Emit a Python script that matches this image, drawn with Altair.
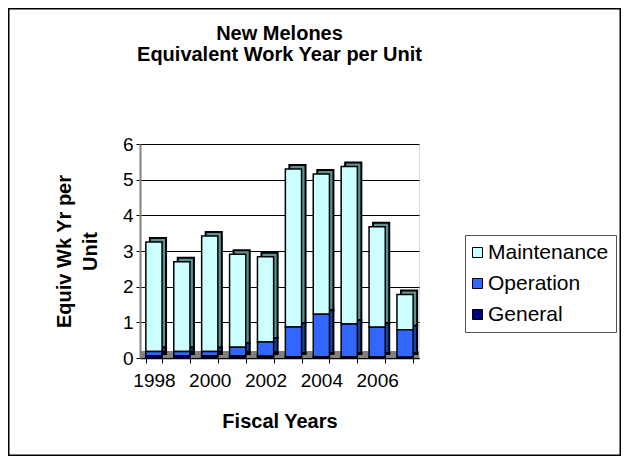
import altair as alt
import pandas as pd

years = [1998, 1999, 2000, 2001, 2002, 2003, 2004, 2005, 2006, 2007]
general = [0.06, 0.06, 0.06, 0.06, 0.05, 0.03, 0.03, 0.03, 0.03, 0.02]
operation = [0.12, 0.12, 0.12, 0.24, 0.40, 0.84, 1.20, 0.92, 0.83, 0.77]
maintenance = [3.07, 2.52, 3.24, 2.61, 2.39, 4.43, 3.93, 4.42, 2.82, 0.99]
series = ["Maintenance", "Operation", "General"]
colors = ["#CCFFFF", "#3366FF", "#000080"]
side_colors = ["#5F8F8F", "#1F3FA0", "#000040"]
stack_rank = {"General": 0, "Operation": 1, "Maintenance": 2}

rows = []
for i, yr in enumerate(years):
    for s, vals in zip(series, [maintenance, operation, general]):
        rows.append({"year": yr, "series": s, "value": vals[i], "rank": stack_rank[s]})
df = pd.DataFrame(rows)

FONT = "Liberation Sans"
W, H = 279, 214
PL, PT, PR, PB = 132, 136, 202, 98
DEPTH = 4

x_enc = alt.X(
    "year:O",
    scale=alt.Scale(paddingInner=0.42, paddingOuter=0.21),
    axis=alt.Axis(
        title="Fiscal Years",
        labelAngle=0,
        tickBand="extent",
        labelExpr="datum.value % 2 == 0 ? datum.label : ''",
        labelOverlap=False,
        labelFontSize=19,
        labelFont=FONT,
        labelColor="black",
        labelPadding=8,
        tickSize=5,
        tickColor="black",
        domainColor="black",
        domainWidth=1.5,
        titleFontSize=20,
        titleFont=FONT,
        titleFontWeight="bold",
        titleBaseline="alphabetic",
        titleY=69,
    ),
)
y_enc = alt.Y(
    "value:Q",
    stack="zero",
    scale=alt.Scale(domain=[0, 6], nice=False),
    axis=alt.Axis(
        title=["Equiv Wk Yr per", "Unit"],
        values=[0, 1, 2, 3, 4, 5, 6],
        grid=True,
        gridColor="black",
        gridWidth=1,
        labelFontSize=19,
        labelFont=FONT,
        labelColor="black",
        labelPadding=3,
        tickSize=4,
        tickColor="black",
        domainColor="#808080",
        domainWidth=2,
        titleFontSize=20,
        titleFont=FONT,
        titleFontWeight="bold",
        titleAngle=-90,
        titleAlign="center",
        titleBaseline="alphabetic",
        titleLineHeight=26,
        titleX=-70,
        titleY=107,
    ),
)

floor = alt.Chart(pd.DataFrame({"a": [0]})).mark_rule(
    color="#808080", strokeWidth=7
).encode(
    x=alt.value(1),
    x2=alt.value(W),
    y=alt.value(H - 3.5),
)

sides = alt.Chart(df).mark_bar(
    stroke="black", strokeWidth=2,
    xOffset=DEPTH, x2Offset=DEPTH, yOffset=-DEPTH, y2Offset=-DEPTH,
).encode(
    x=x_enc,
    y=y_enc,
    fill=alt.Fill("series:N", scale=alt.Scale(domain=series, range=side_colors), legend=None),
    order=alt.Order("rank:Q", sort="ascending"),
)

bars = alt.Chart(df).mark_bar(stroke="black", strokeWidth=1.5).encode(
    x=x_enc,
    y=y_enc,
    color=alt.Color(
        "series:N",
        scale=alt.Scale(domain=series, range=colors),
        legend=alt.Legend(
            title=None,
            orient="none",
            legendX=325,
            legendY=91,
            padding=7,
            rowPadding=9,
            symbolType="square",
            symbolSize=100,
            symbolStrokeColor="black",
            symbolStrokeWidth=1,
            symbolOpacity=1,
            symbolOffset=-5,
            labelFontSize=21,
            labelFont=FONT,
            labelColor="black",
            labelOffset=0,
            strokeColor="#555555",
        ),
    ),
    order=alt.Order("rank:Q", sort="ascending"),
)

border = alt.Chart(pd.DataFrame({"a": [0]})).mark_rect(
    fillOpacity=0, stroke="black", strokeWidth=1.5
).encode(
    x=alt.value(-PL + 0.75),
    x2=alt.value(W + PR - 0.75),
    y=alt.value(-PT + 0.75),
    y2=alt.value(H + PB - 0.75),
)

chart = alt.layer(border, floor, sides, bars).resolve_scale(
    fill="independent", color="independent"
).properties(
    width=W,
    height=H,
    padding={"left": PL, "top": PT, "right": PR, "bottom": PB},
    autosize=alt.AutoSizeParams(type="none"),
    title=alt.TitleParams(
        text=["New Melones", "Equivalent Work Year per Unit"],
        fontSize=20,
        font=FONT,
        fontWeight="bold",
        lineHeight=21,
        anchor="middle",
        offset=-57,
    ),
).configure_view(stroke="#808080", strokeWidth=1.5).configure(background="white")

chart.save("out.html", embed_options={"renderer": "svg", "actions": False})
